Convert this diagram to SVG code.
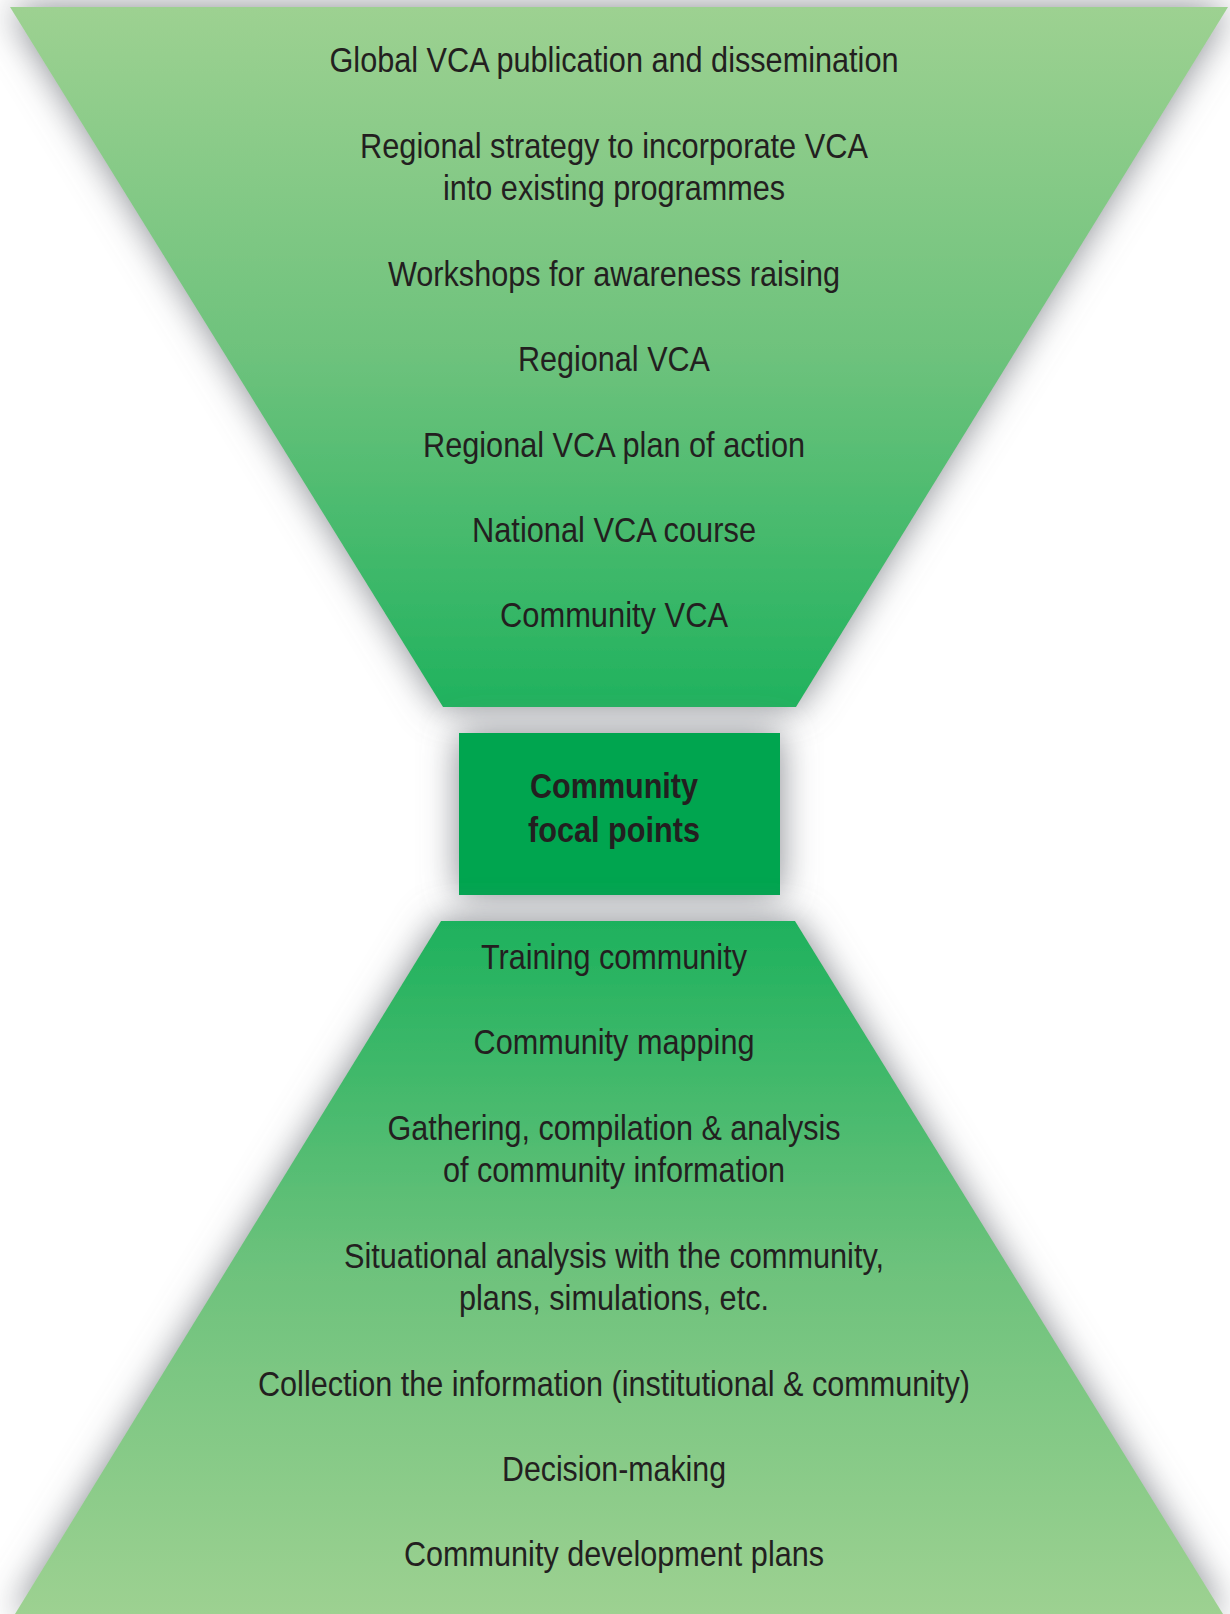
<svg xmlns="http://www.w3.org/2000/svg" width="1230" height="1614" viewBox="0 0 1230 1614">
<defs>
<linearGradient id="gTop" x1="0" y1="7" x2="0" y2="707" gradientUnits="userSpaceOnUse">
<stop offset="0" stop-color="#9dd191"/>
<stop offset="0.5" stop-color="#6dc27c"/>
<stop offset="1" stop-color="#20b25e"/>
</linearGradient>
<linearGradient id="gBot" x1="0" y1="921" x2="0" y2="1614" gradientUnits="userSpaceOnUse">
<stop offset="0" stop-color="#1eb15d"/>
<stop offset="0.5" stop-color="#6dc27c"/>
<stop offset="1" stop-color="#9dd191"/>
</linearGradient>
<filter id="shadow" x="-30%" y="-30%" width="160%" height="160%">
<feDropShadow dx="0" dy="0" stdDeviation="18" flood-color="#7f8288" flood-opacity="0.95"/>
</filter>
</defs>
<style>
.t{font-family:"Liberation Sans",Arial,sans-serif;font-size:35px;fill:#231f20;text-anchor:middle}
.b{font-weight:bold}
</style>
<rect width="1230" height="1614" fill="#ffffff"/>
<g id="connectors"/>
<g id="top-funnel">
<polygon points="10,7 1228,7 796,707 443,707" fill="url(#gTop)" filter="url(#shadow)"/>
<text class="t" x="614" y="72" textLength="569" lengthAdjust="spacingAndGlyphs">Global VCA publication and dissemination</text>
<text class="t" x="614" y="158" textLength="508" lengthAdjust="spacingAndGlyphs">Regional strategy to incorporate VCA</text>
<text class="t" x="614" y="200" textLength="342" lengthAdjust="spacingAndGlyphs">into existing programmes</text>
<text class="t" x="614" y="286" textLength="452" lengthAdjust="spacingAndGlyphs">Workshops for awareness raising</text>
<text class="t" x="614" y="371" textLength="192" lengthAdjust="spacingAndGlyphs">Regional VCA</text>
<text class="t" x="614" y="457" textLength="382" lengthAdjust="spacingAndGlyphs">Regional VCA plan of action</text>
<text class="t" x="614" y="542" textLength="284" lengthAdjust="spacingAndGlyphs">National VCA course</text>
<text class="t" x="614" y="627" textLength="228" lengthAdjust="spacingAndGlyphs">Community VCA</text>
</g>
<g id="focal-points">
<rect x="459" y="733" width="321" height="162" fill="#00a54f" filter="url(#shadow)"/>
<text class="t b" x="614" y="798" textLength="168" lengthAdjust="spacingAndGlyphs">Community</text>
<text class="t b" x="614" y="842" textLength="172" lengthAdjust="spacingAndGlyphs">focal points</text>
</g>
<g id="bottom-funnel">
<polygon points="441,921 795,921 1223,1614 15,1614" fill="url(#gBot)" filter="url(#shadow)"/>
<text class="t" x="614" y="969" textLength="266" lengthAdjust="spacingAndGlyphs">Training community</text>
<text class="t" x="614" y="1054" textLength="281" lengthAdjust="spacingAndGlyphs">Community mapping</text>
<text class="t" x="614" y="1140" textLength="453" lengthAdjust="spacingAndGlyphs">Gathering, compilation &amp; analysis</text>
<text class="t" x="614" y="1182" textLength="342" lengthAdjust="spacingAndGlyphs">of community information</text>
<text class="t" x="614" y="1268" textLength="540" lengthAdjust="spacingAndGlyphs">Situational analysis with the community,</text>
<text class="t" x="614" y="1310" textLength="310" lengthAdjust="spacingAndGlyphs">plans, simulations, etc.</text>
<text class="t" x="614" y="1396" textLength="712" lengthAdjust="spacingAndGlyphs">Collection the information (institutional &amp; community)</text>
<text class="t" x="614" y="1481" textLength="224" lengthAdjust="spacingAndGlyphs">Decision-making</text>
<text class="t" x="614" y="1566" textLength="420" lengthAdjust="spacingAndGlyphs">Community development plans</text>
</g>
</svg>
